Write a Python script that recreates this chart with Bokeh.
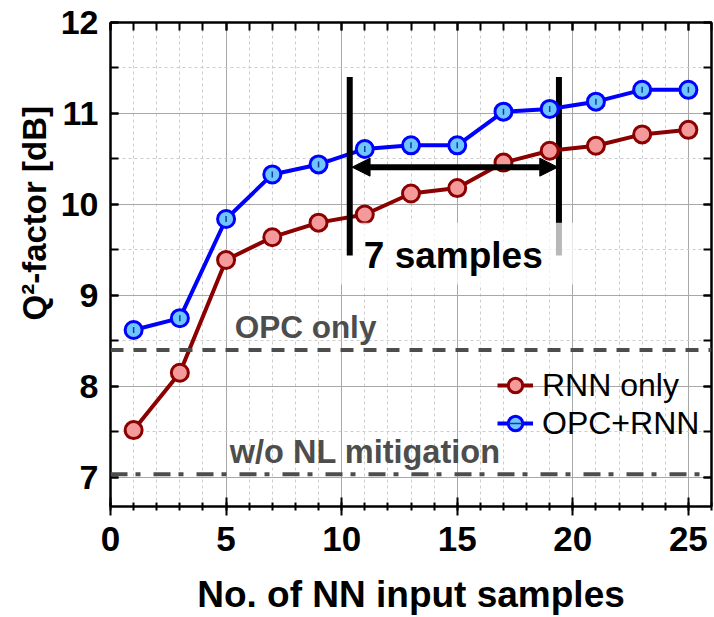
import math
from bokeh.plotting import figure
from bokeh.models import (Range1d, SingleIntervalTicker, LinearAxis, Label, Arrow, Title,
                          NormalHead, Legend, LegendItem, Span, CustomJSTickFormatter)
from bokeh.embed import file_html
from bokeh.resources import INLINE

# ---------------- data ----------------
n_samples = [1, 3, 5, 7, 9, 11, 13, 15, 17, 19, 21, 23, 25]
rnn_only = [7.52, 8.15, 9.39, 9.64, 9.80, 9.89, 10.12, 10.18, 10.46, 10.59, 10.645, 10.77, 10.82]
opc_rnn = [8.62, 8.75, 9.84, 10.33, 10.44, 10.61, 10.65, 10.65, 11.02, 11.05, 11.13, 11.26, 11.26]
opc_only_level = 8.40
no_mitigation_level = 7.035
series_labels = ["RNN only", "OPC+RNN"]
x_title = "No. of NN input samples"
y_title = "Q\u00b2-factor [dB]"

# annotation geometry (data units)
bar_left_x = 10.35
bar_right_x = 19.40
bar_top = 11.40
bar_bottom = 9.44
arrow_y = 10.41

FONT = "Liberation Sans"

p = figure(frame_width=601, frame_height=484,
           min_border_left=110, min_border_right=3, min_border_top=22, min_border_bottom=111,
           x_range=Range1d(0, 26), y_range=Range1d(6.68, 12),
           output_backend="svg", toolbar_location=None)
p.background_fill_color = "white"
p.border_fill_color = "white"
p.outline_line_color = "black"
p.outline_line_width = 2

xt = SingleIntervalTicker(interval=5, num_minor_ticks=5)
yt = SingleIntervalTicker(interval=1, num_minor_ticks=2)

for ax in p.xaxis:
    ax.ticker = xt
for ax in p.yaxis:
    ax.ticker = yt
p.xgrid.ticker = xt
p.ygrid.ticker = yt

for g in (p.xgrid, p.ygrid):
    g.grid_line_color = "#a8a8a8"
    g.grid_line_width = 1
    g.minor_grid_line_color = "#cccccc"
    g.minor_grid_line_dash = "3 3"
    g.minor_grid_line_width = 1

xa = p.xaxis[0]
xa.axis_line_width = 2
xa.major_tick_in = 9
xa.major_tick_out = 9
xa.minor_tick_in = 4
xa.minor_tick_out = 4
xa.major_tick_line_width = 2
xa.minor_tick_line_width = 2
xa.major_label_text_font = FONT
xa.major_label_text_font_style = "bold"
xa.major_label_text_font_size = "35px"
xa.major_label_text_color = "black"
xa.major_label_standoff = 11
xa.axis_label = x_title
xa.axis_label_text_font = FONT
xa.axis_label_text_font_style = "bold"
xa.axis_label_text_font_size = "37px"
xa.axis_label_text_color = "black"
xa.axis_label_standoff = 20

ya = p.yaxis[0]
ya.axis_line_width = 2
ya.major_tick_in = 8
ya.major_tick_out = 0
ya.minor_tick_in = 8
ya.minor_tick_out = 0
ya.major_tick_line_width = 2
ya.minor_tick_line_width = 2
ya.major_label_text_font = FONT
ya.major_label_text_font_style = "bold"
ya.major_label_text_font_size = "34px"
ya.major_label_text_color = "black"
ya.major_label_standoff = 12

# mirror axes (ticks only)
blank = CustomJSTickFormatter(code="return '';")
top = LinearAxis(ticker=xt, formatter=blank, axis_line_width=2,
                 major_tick_in=8, major_tick_out=0, minor_tick_in=8, minor_tick_out=0,
                 major_tick_line_width=2, minor_tick_line_width=2, major_label_standoff=0)
right = LinearAxis(ticker=yt, formatter=blank, axis_line_width=2,
                   major_tick_in=8, major_tick_out=0, minor_tick_in=8, minor_tick_out=0,
                   major_tick_line_width=2, minor_tick_line_width=2, major_label_standoff=0)
p.add_layout(top, "above")
p.add_layout(right, "right")

# y-axis title (placed on the left, starting ~186 px above the frame bottom)
p.add_layout(Title(text=y_title, align="left", offset=186, text_font=FONT,
                   text_font_style="bold", text_font_size="33px", text_color="black"), "left")

# reference levels
p.add_layout(Span(location=opc_only_level, dimension="width", line_color="#4d4d4d",
                  line_width=4, line_dash="13 10"))
p.add_layout(Span(location=no_mitigation_level, dimension="width", line_color="#4d4d4d",
                  line_width=4, line_dash="17 8 5 13"))

# right bar (partly under the text box)
p.segment(x0=[bar_right_x], y0=[bar_bottom], x1=[bar_right_x], y1=[bar_top],
          line_color="black", line_width=6)

# series
RED = "#8b0000"
BLUE = "#0000ff"
rl = p.line(n_samples, rnn_only, line_color=RED, line_width=4)
rs = p.scatter(n_samples, rnn_only, size=17, fill_color="#f59a9a", line_color=RED, line_width=3)
bl = p.line(n_samples, opc_rnn, line_color=BLUE, line_width=4)
bs = p.scatter(n_samples, opc_rnn, size=17, fill_color="#6ec6ff", line_color=BLUE, line_width=3)
bd = p.scatter(n_samples, opc_rnn, marker="dash", angle=math.pi / 2, size=6,
               line_color="#1a3a8a", line_width=1.5)

# semi-transparent box behind "7 samples"
p.quad(left=[9.97], right=[20.1], bottom=[9.12], top=[9.80],
       fill_color="white", fill_alpha=0.72, line_color=None)

# left bar (on top)
p.segment(x0=[bar_left_x], y0=[bar_bottom], x1=[bar_left_x], y1=[bar_top],
          line_color="black", line_width=6)

p.add_layout(Arrow(start=NormalHead(size=18, fill_color="black", line_color="black"),
                   end=NormalHead(size=18, fill_color="black", line_color="black"),
                   x_start=bar_left_x + 0.1, y_start=arrow_y, x_end=bar_right_x - 0.05, y_end=arrow_y,
                   line_color="black", line_width=6))

p.add_layout(Label(x=14.83, y=9.434, text="7 samples", text_align="center",
                   text_baseline="middle", text_font=FONT, text_font_style="bold",
                   text_font_size="37px", text_color="black"))
p.add_layout(Label(x=5.37, y=8.654, text="OPC only", text_align="left",
                   text_baseline="middle", text_font=FONT, text_font_style="bold",
                   text_font_size="31.5px", text_color="#4d4d4d"))
p.add_layout(Label(x=5.16, y=7.277, text="w/o NL mitigation", text_align="left",
                   text_baseline="middle", text_font=FONT, text_font_style="bold",
                   text_font_size="32.5px", text_color="#4d4d4d"))

legend = Legend(items=[LegendItem(label=series_labels[0], renderers=[rl, rs]),
                       LegendItem(label=series_labels[1], renderers=[bl, bs, bd])],
                location=(387, 64), padding=0, spacing=0, margin=0,
                glyph_width=36, glyph_height=38, label_height=38, label_standoff=9,
                label_text_font=FONT, label_text_font_size="32px", label_text_color="black",
                background_fill_alpha=0, border_line_alpha=0)
p.add_layout(legend)

open("out.html", "w").write(file_html(p, INLINE))
